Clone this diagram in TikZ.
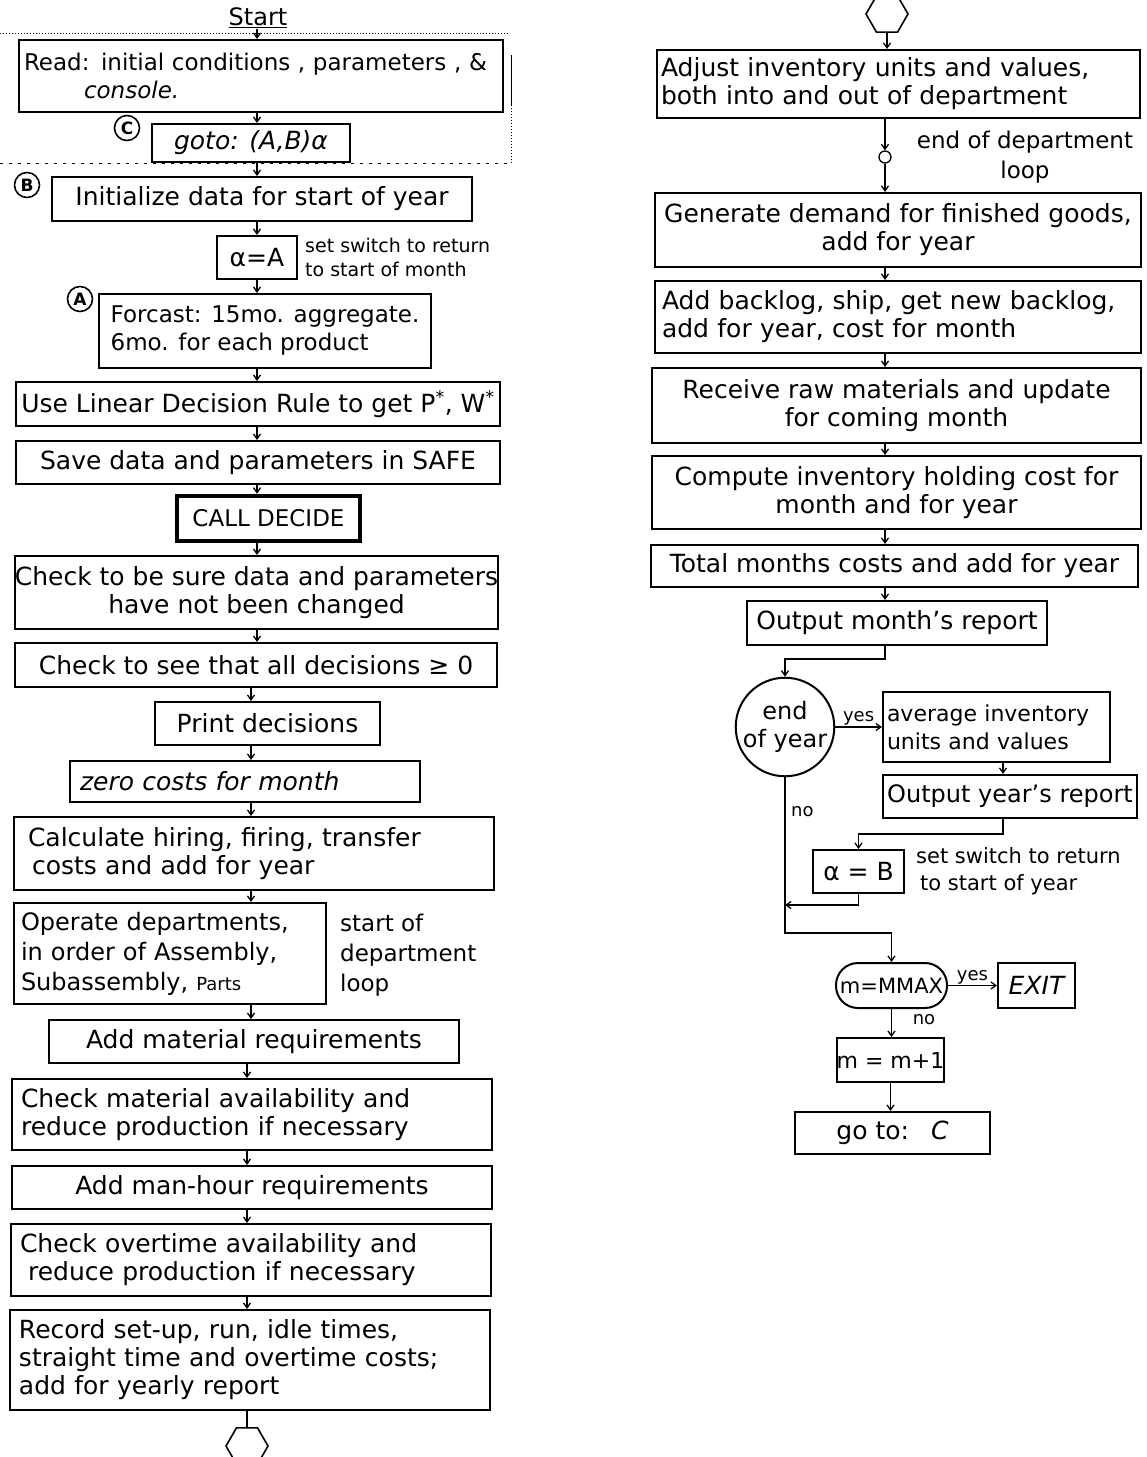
\documentclass[tikz,border=0pt]{standalone}
\usepackage{fontspec}
\setmainfont{DejaVu Sans}
\usetikzlibrary{shapes.geometric,arrows.meta}
\newcommand\fs[2]{\fontsize{#1}{#2}\selectfont}
\begin{document}
\begin{tikzpicture}[x=1pt,y=-1pt,
  box/.style={draw, line width=2pt, inner sep=0pt, font=\fs{25}{28}},
  arr/.style={-{Straight Barb[length=5pt,width=7pt]}, line width=1.3pt},
  lab/.style={circle, draw, line width=1.6pt, minimum size=25pt, inner sep=0pt, font=\fs{17}{17}\bfseries},
  note/.style={align=left, inner sep=0pt},
  offpage/.style={regular polygon, regular polygon sides=6, draw, line width=1.6pt, minimum size=42pt, inner sep=0pt},
  small/.style={font=\fs{18}{20}, inner sep=1pt}]
\useasboundingbox (0,0) rectangle (1147,1457);
\fill[white] (0,0) rectangle (1147,1457);

% scan frame marks
\draw[dotted, line width=1pt] (0,33) -- (510,33);
\draw[dash pattern=on 3pt off 6pt, line width=1pt] (0,163) -- (510,163);
\draw[line width=1pt] (511,55) -- (511,105);
\draw[dotted, line width=1pt] (511,105) -- (511,163);

% ---------------- left column ----------------
\node[font=\fs{24}{26}, inner sep=1pt] (start) at (258,18) {\underline{Start}};
\node[box, minimum width=484pt, minimum height=72pt, text width=474pt, align=left, font=\fs{23}{28}] (read) at (261,76)
  {Read: initial conditions , parameters , \&\\\hspace*{60pt}\textit{console.}};
\node[lab] (cC) at (127,128) {C};
\node[box, minimum width=198pt, minimum height=38pt, font=\fs{25}{28}\itshape] (goto) at (251,143) {goto: (A,B)α};
\node[lab] (cB) at (27,185) {B};
\node[box, minimum width=420pt, minimum height=44pt] (init) at (262,199) {Initialize data for start of year};
\node[box, minimum width=80pt, minimum height=43pt] (alA) at (257,257.5) {α=A};
\node[note, anchor=west, font=\fs{19}{24}] (n1) at (305,257) {set switch to return\\to start of month};
\node[lab] (cA) at (80,299) {A};
\node[box, minimum width=332pt, minimum height=74pt, align=left, font=\fs{23}{28}] (fore) at (265,331)
  {Forcast: 15mo. aggregate.\\6mo. for each product};
\node[box, minimum width=484pt, minimum height=44pt] (ldr) at (258,404)
  {Use Linear Decision Rule to get P\textsuperscript{*}, W\textsuperscript{*}};
\node[box, minimum width=484pt, minimum height=43pt] (safe) at (258,462.5) {Save data and parameters in SAFE};
\node[box, line width=4.5pt, minimum width=183pt, minimum height=45pt, font=\fs{23}{26}] (decide) at (268.5,518.5) {CALL DECIDE};
\node[box, minimum width=481pt, minimum height=73pt, align=center] (sure) at (256.5,592.5)
  {Check to be sure data and parameters\\have not been changed};
\node[box, minimum width=482pt, minimum height=44pt] (ge0) at (256,665) {Check to see that all decisions ≥ 0};
\node[box, minimum width=225pt, minimum height=43pt] (print) at (267.5,723.5) {Print decisions};
\node[box, minimum width=350pt, minimum height=41pt, text width=330pt, align=left, font=\fs{25}{28}\itshape] (zero) at (245,781.5) {zero costs for month};
\node[box, minimum width=480pt, minimum height=73pt, text width=452pt, align=left] (calc) at (254,853.5)
  {Calculate hiring, firing, transfer\\\hspace*{4pt}costs and add for year};
\node[box, minimum width=312pt, minimum height=101pt, text width=298pt, align=left, font=\fs{24}{30}] (oper) at (170,953.5)
  {Operate departments,\\in order of Assembly,\\Subassembly, {\fs{18}{20}Parts}};
\node[note, anchor=west, font=\fs{23}{30}] (n2) at (340,955) {start of\\department\\loop};
\node[box, minimum width=410pt, minimum height=43pt] (addmat) at (254,1041.5) {Add material requirements};
\node[box, minimum width=480pt, minimum height=71pt, text width=462pt, align=left] (chkmat) at (252,1114.5)
  {Check material availability and\\reduce production if necessary};
\node[box, minimum width=480pt, minimum height=43pt] (manhr) at (252,1187.5) {Add man-hour requirements};
\node[box, minimum width=480pt, minimum height=72pt, text width=462pt, align=left] (overt) at (251,1260)
  {Check overtime availability and\\\hspace*{8pt}reduce production if necessary};
\node[box, minimum width=480pt, minimum height=100pt, text width=462pt, align=left] (record) at (250,1360)
  {Record set-up, run, idle times,\\straight time and overtime costs;\\add for yearly report};
\node[offpage] (offL) at (247,1446) {};

\coordinate (sa) at (257,0);
\coordinate (sb) at (251,0);
\coordinate (sc) at (247,0);
\foreach \a/\b/\s in {start/read/sa, read/goto/sa, goto/init/sa, init/alA/sa, alA/fore/sa, fore/ldr/sa,
  ldr/safe/sa, safe/decide/sa, decide/sure/sa, sure/ge0/sa, ge0/print/sb, print/zero/sb, zero/calc/sb,
  calc/oper/sb, oper/addmat/sb, addmat/chkmat/sc, chkmat/manhr/sc, manhr/overt/sc, overt/record/sc}
  \draw[arr] (\a.south -| \s) -- (\b.north -| \s);
\draw[line width=1.3pt] (record.south -| sc) -- (offL.north);

% ---------------- right column ----------------
\node[offpage] (offR) at (887,14) {};
\node[box, minimum width=483pt, minimum height=68pt, text width=475pt, align=left] (adjust) at (898.5,84)
  {Adjust inventory units and values,\\both into and out of department};
\node[circle, draw, line width=1.3pt, minimum size=12pt, inner sep=0pt] (loopc) at (885,157) {};
\node[note, align=center, font=\fs{23}{30}] (n3) at (1025,157) {end of department\\loop};
\node[box, minimum width=486pt, minimum height=74pt, align=center] (gen) at (898,230)
  {Generate demand for finished goods,\\add for year};
\node[box, minimum width=486pt, minimum height=72pt, text width=472pt, align=left] (backlog) at (898,317)
  {Add backlog, ship, get new backlog,\\add for year, cost for month};
\node[box, minimum width=489pt, minimum height=75pt, align=center] (receive) at (896.5,405.5)
  {Receive raw materials and update\\for coming month};
\node[box, minimum width=489pt, minimum height=73pt, align=center] (compute) at (896.5,492.5)
  {Compute inventory holding cost for\\month and for year};
\node[box, minimum width=487pt, minimum height=42pt] (total) at (894.5,566) {Total months costs and add for year};
\node[box, minimum width=300pt, minimum height=44pt] (outm) at (897,623) {Output month's report};
\node[circle, draw, line width=2pt, minimum size=98pt, inner sep=0pt, align=center, font=\fs{24}{28}] (eoy) at (785,727) {end\\of year};
\node[box, minimum width=227pt, minimum height=70pt, text width=219pt, align=left, font=\fs{22}{28}] (avg) at (996.5,727)
  {average inventory\\units and values};
\node[box, minimum width=254pt, minimum height=43pt, font=\fs{24}{28}] (outy) at (1010,796.5) {Output year's report};
\node[box, minimum width=91pt, minimum height=43pt] (alB) at (858.5,871.5) {α = B};
\node[note, anchor=west, font=\fs{21}{27}] (n4) at (916,871) {set switch to return\\\hspace*{4pt}to start of year};
\node[box, rounded corners=22pt, minimum width=111pt, minimum height=45pt, font=\fs{21}{24}] (mmax) at (891.5,985.5) {m=MMAX};
\node[box, minimum width=77pt, minimum height=45pt, font=\fs{25}{28}\itshape] (exit) at (1036.5,985.5) {EXIT};
\node[box, minimum width=107pt, minimum height=44pt, font=\fs{22}{24}] (mp1) at (890.5,1060) {m = m+1};
\node[box, minimum width=195pt, minimum height=42pt] (gotoC) at (892.5,1133) {go to:\hspace{22pt}\textit{C}\hspace{22pt}};

\coordinate (sr) at (885,0);
\coordinate (sy) at (1003,0);
\coordinate (join) at (785,905);
\coordinate (bend) at (785,933);
\draw[arr] (offR.south) -- (offR.south |- adjust.north);
\draw[arr] (adjust.south -| sr) -- (loopc.north);
\draw[arr] (loopc.south) -- (gen.north -| sr);
\foreach \a/\b in {gen/backlog, backlog/receive, receive/compute, compute/total, total/outm}
  \draw[arr] (\a.south -| sr) -- (\b.north -| sr);
\draw[arr] (outm.south -| sr) -- ++(0,13) -| (eoy.north);
\draw[arr] (eoy.east) -- node[small, above] (yes1) {yes} (avg.west);
\draw[arr] (avg.south -| sy) -- (outy.north -| sy);
\draw[arr] (outy.south -| sy) -- ++(0,15) -| (alB.north);
\draw[arr] (alB.south) |- (join);
\draw[arr] (eoy.south) -- (bend) -| (mmax.north);
\node[small, anchor=west] (no1) at (790,812) {no};
\draw[arr] (mmax.east) -- node[small, above] (yes2) {yes} (exit.west);
\draw[arr] (mmax.south) -- (mmax.south |- mp1.north);
\node[small] (no2) at (924,1020) {no};
\draw[arr] (mp1.south) -- (mp1.south |- gotoC.north);
\end{tikzpicture}
\end{document}
